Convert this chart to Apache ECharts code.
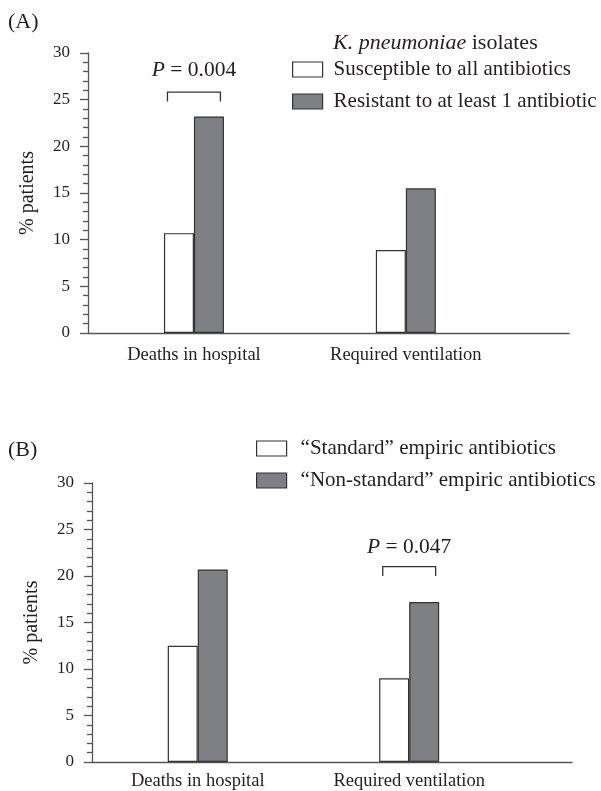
<!DOCTYPE html>
<html>
<head>
<meta charset="utf-8">
<script src="https://cdn.jsdelivr.net/npm/echarts@6/dist/echarts.min.js"></script>
<style>
html,body{margin:0;padding:0;background:#fff;}
#chart{width:601px;height:791px;}
</style>
</head>
<body>
<div id="chart"></div>
<script>
// ---- data ----
const categories = ['Deaths in hospital', 'Required ventilation'];
const namesA = ['Susceptible to all antibiotics', 'Resistant to at least 1 antibiotic'];
const susceptibleA = [10.7, 8.9];
const resistantA = [23.2, 15.5];
const namesB = ['\u201cStandard\u201d empiric antibiotics', '\u201cNon-standard\u201d empiric antibiotics'];
const standardB = [12.5, 9.0];
const nonStandardB = [20.7, 17.2];
const yMin = 0, yMax = 30, yStep = 5;
// significance annotations: category index, bracket top value, label value, p text
const sigA = [[0, 25.8, 28.1, '0.004']];
const sigB = [[1, 21.0, 23.1, '0.047']];

const FONT = 'Liberation Serif';
const TXT = '#231f20';
const AX = '#555';
const WHITE = '#ffffff';
const GRAY = '#7f8083';
const BORDER = '#333';

const toXY = (vals) => vals.map((v, i) => [i + 0.5, v]);
const sigData = (s) => s.map(d => [d[0] + 0.5, d[1], d[2], d[3]]);

function xAxisCfg(gi, margin) {
  return {
    type: 'value', gridIndex: gi, min: 0, max: 2.27, interval: 0.5,
    splitLine: {show: false},
    axisTick: {show: false},
    axisLine: {show: true, lineStyle: {color: AX, width: 1.3}},
    axisLabel: {
      margin: margin, color: TXT, fontFamily: FONT, fontSize: 18.5,
      showMaxLabel: false,
      formatter: (v) => {
        const i = Math.round(v - 0.5);
        return (Math.abs(v - (i + 0.5)) < 1e-6 && categories[i]) ? categories[i] : '';
      }
    }
  };
}
function yAxisCfg(gi) {
  return {
    type: 'value', gridIndex: gi, min: yMin, max: yMax, interval: yStep,
    name: '% patients', nameLocation: 'middle', nameGap: 50, nameRotate: 90,
    nameTextStyle: {fontFamily: FONT, fontSize: 20, color: TXT},
    splitLine: {show: false},
    axisLine: {show: true, lineStyle: {color: AX, width: 1.3}},
    axisTick: {show: true, length: 8, lineStyle: {color: AX, width: 1.3}},
    minorTick: {show: true, splitNumber: 5, length: 5, lineStyle: {color: AX, width: 1.3}},
    axisLabel: {margin: 18, color: TXT, fontFamily: FONT, fontSize: 17}
  };
}
function barSeries(name, vals, color, gi) {
  return {
    type: 'bar', name: name, xAxisIndex: gi, yAxisIndex: gi,
    data: toXY(vals), barWidth: 30, barGap: '0%',
    itemStyle: {color: color, borderColor: BORDER, borderWidth: 1.2}
  };
}
function sigSeries(data, gi) {
  return {
    type: 'custom', xAxisIndex: gi, yAxisIndex: gi, silent: true,
    data: data,
    renderItem: function (params, api) {
      const x = api.value(0), top = api.value(1), lab = api.value(2);
      const l = api.coord([x - 0.125, top]);
      const r = api.coord([x + 0.125, top]);
      const b = api.coord([x, top - 1]);
      const t = api.coord([x, lab]);
      const p = data[params.dataIndex][3];
      return {
        type: 'group',
        children: [
          {type: 'polyline', shape: {points: [[l[0], b[1]], [l[0], l[1]], [r[0], r[1]], [r[0], b[1]]]},
           style: {stroke: BORDER, lineWidth: 1.3, fill: null}},
          {type: 'text', x: t[0], y: t[1],
           style: {text: '{i|P} = ' + p, x: 0, y: 0, align: 'center', verticalAlign: 'middle',
                   fontFamily: FONT, fontSize: 21.5, fill: TXT,
                   rich: {i: {fontStyle: 'italic', fontFamily: FONT, fontSize: 21.5, fill: TXT, color: TXT}}}}
        ]
      };
    }
  };
}
function legendCfg(names, left, top, pad) {
  return {
    data: names, orient: 'vertical', left: left, top: top, padding: 0,
    icon: 'rect', itemWidth: 30, itemHeight: 15, itemGap: 11,
    selectedMode: false,
    itemStyle: {borderColor: BORDER, borderWidth: 1.2},
    textStyle: {fontFamily: FONT, fontSize: 21, color: TXT, padding: [0, 0, 0, pad]}
  };
}

const chart = echarts.init(document.getElementById('chart'), null, {renderer: 'canvas'});
chart.setOption({
  backgroundColor: '#fff',
  animation: false,
  grid: [
    {left: 88, top: 53, width: 481, height: 280, containLabel: false, outerBoundsMode: 'none'},
    {left: 92, top: 483, width: 480, height: 279, containLabel: false, outerBoundsMode: 'none'}
  ],
  xAxis: [xAxisCfg(0, 13), xAxisCfg(1, 10)],
  yAxis: [yAxisCfg(0), yAxisCfg(1)],
  legend: [legendCfg(namesA, 292, 59, 6), legendCfg(namesB, 256, 438, 9)],
  graphic: [
    {type: 'text', left: 8, top: 11, style: {text: '(A)', fontFamily: FONT, fontSize: 22, fill: TXT}},
    {type: 'text', left: 8, top: 439, style: {text: '(B)', fontFamily: FONT, fontSize: 22, fill: TXT}},
    {type: 'text', left: 333, top: 32, style: {text: '{i|K. pneumoniae} isolates', fontFamily: FONT, fontSize: 22, fill: TXT,
      rich: {i: {fontStyle: 'italic', fontFamily: FONT, fontSize: 22, fill: TXT, color: TXT}}}}
  ],
  series: [
    barSeries(namesA[0], susceptibleA, WHITE, 0),
    barSeries(namesA[1], resistantA, GRAY, 0),
    barSeries(namesB[0], standardB, WHITE, 1),
    barSeries(namesB[1], nonStandardB, GRAY, 1),
    sigSeries(sigData(sigA), 0),
    sigSeries(sigData(sigB), 1)
  ]
});
</script>
</body>
</html>
